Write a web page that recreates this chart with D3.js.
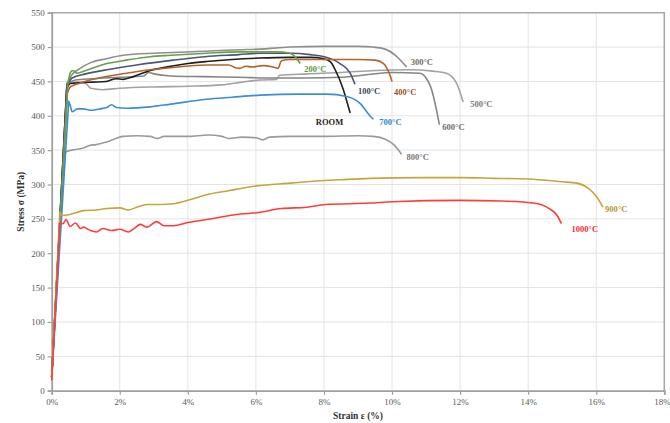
<!DOCTYPE html>
<html>
<head>
<meta charset="utf-8">
<script src="https://cdn.jsdelivr.net/npm/d3@7"></script>
<style>
  html, body { margin: 0; padding: 0; background: #fff; }
  svg { display: block; }
  text { font-family: "Liberation Serif", "Times New Roman", serif; }
</style>
</head>
<body>
<svg id="chart" width="670" height="423"></svg>
<script>
// Stress–strain curves at different test temperatures: [strain %, stress MPa]
const roomTemp = [[0,20],[0.44,440],[0.55,447],[0.8,448],[1.2,449],[1.6,450],[1.9,454],[2.1,453],[2.4,457],[2.9,466],[3.5,472],[4.0,476],[4.55,479],[5.3,482],[6.1,484],[7.0,485],[7.6,485],[8.0,483],[8.2,478],[8.33,467],[8.57,438],[8.69,418],[8.77,404]];
const t100 = [[0,20],[0.45,445],[0.6,455],[1.0,461],[1.62,467],[2.5,474],[3.57,481],[4.5,486],[5.5,489],[6.12,491],[7.0,491],[7.6,489],[8.0,486],[8.47,476],[8.77,462],[8.91,446]];
const t200 = [[0,20],[0.47,445],[0.55,463],[0.62,466],[0.75,462],[1.0,466],[1.62,476],[2.2,481],[2.89,486],[3.5,488],[4.55,491],[5.5,493],[6.12,493],[6.6,493],[7.0,491],[7.15,486],[7.3,476]];
const t300 = [[0,20],[0.48,450],[0.6,460],[0.8,468],[1.13,477],[1.6,483],[2.1,488],[3.0,491],[3.57,492],[4.5,494],[5.5,496],[6.12,497],[7.0,500],[8.0,501],[9.0,501],[9.45,500],[9.8,497],[10.1,488],[10.3,478],[10.43,471]];
const t400 = [[0,20],[0.45,432],[0.55,442],[0.8,447],[1.13,452],[1.6,457],[2.2,462],[2.89,467],[3.5,470],[4.55,474],[5.2,474],[5.4,470],[5.53,469],[5.7,472],[5.9,471],[6.2,473],[6.5,471],[6.65,469],[6.75,480],[7.0,482],[8.0,482],[9.0,482],[9.5,481],[9.75,476],[9.9,464],[10.0,450]];
const t500 = [[0,20],[0.45,448],[0.7,449],[1.0,447],[1.15,440],[1.5,438],[2.0,440],[3.0,442],[4.0,443],[5.0,445],[5.6,449],[6.12,452],[6.6,453],[6.7,459],[7.5,461],[8.5,463],[9.5,466],[10.5,467],[11.2,465],[11.6,462],[11.9,447],[12.09,420]];
const t600 = [[0,20],[0.45,447],[0.7,452],[1.2,454],[2.0,456],[2.7,458],[2.85,463],[3.0,461],[3.5,458],[4.5,457],[5.5,456],[6.5,455],[7.5,455],[8.5,456],[9.3,460],[10.0,463],[10.82,462],[11.0,455],[11.15,440],[11.3,410],[11.39,387]];
const t700 = [[0,20],[0.5,421],[0.55,414],[0.6,406],[0.75,410],[0.93,410],[1.13,408],[1.4,410],[1.62,412],[1.76,416],[1.9,412],[2.2,411],[2.89,413],[3.5,417],[4.55,424],[5.3,427],[6.12,430],[7.3,431.5],[8.08,431.5],[8.67,428],[9.06,418],[9.35,400],[9.45,395]];
const t800 = [[0,20],[0.38,345],[0.44,348],[0.7,351],[0.93,353],[1.13,357],[1.3,358],[1.62,362],[2.1,370],[2.5,371],[2.9,370],[3.1,367],[3.3,370],[4.0,370],[4.6,372],[5.0,370],[5.2,367],[5.6,369],[6.0,368],[6.2,365],[6.4,369],[7.0,370],[8.0,370],[9.0,371],[9.45,370],[9.8,366],[10.05,358],[10.28,344]];
const t900 = [[0,20],[0.24,260],[0.3,255],[0.5,256],[0.93,262],[1.3,263],[1.62,265],[2.0,266],[2.25,263],[2.5,267],[2.8,271],[3.2,271],[3.57,272],[4.0,277],[4.55,285],[5.2,291],[6.02,298],[7.0,302],[7.49,304],[8.5,307],[9.35,309],[10.86,310],[12.04,310],[13.0,309],[14.0,308],[15.0,304],[15.43,302],[15.78,294],[16.0,283],[16.2,267]];
const t1000 = [[0,15],[0.24,244],[0.33,243],[0.42,249],[0.54,239],[0.7,244],[0.85,236],[0.93,238],[1.1,234],[1.32,231],[1.5,236],[1.76,233],[2.0,235],[2.25,231],[2.45,237],[2.6,242],[2.8,238],[3.08,246],[3.3,240],[3.57,240],[4.04,245],[4.55,249],[5.56,257],[6.02,259],[6.74,265],[7.49,267],[8.04,271],[9.35,273],[10.01,275],[12.01,277],[13.2,276],[14.15,273],[14.62,265],[14.85,255],[14.98,243]];

const seriesNames = ["300°C","500°C","600°C","800°C","ROOM","100°C","400°C","200°C","700°C","900°C","1000°C"];
const seriesData  = [t300, t500, t600, t800, roomTemp, t100, t400, t200, t700, t900, t1000];

const strainTicks = [0,2,4,6,8,10,12,14,16,18];
const stressTicks = [0,50,100,150,200,250,300,350,400,450,500,550];

// Styling for each curve and the pixel offset of its end label
const styles = {
  "300°C":  {color:"#8e8e8e", text:"#6e6e6e", dx:4,  dy:-5, anchor:"start"},
  "500°C":  {color:"#a2a2a2", text:"#7a7a7a", dx:7,  dy:2,  anchor:"start"},
  "600°C":  {color:"#858585", text:"#6e6e6e", dx:3,  dy:2,  anchor:"start"},
  "800°C":  {color:"#9a9a9a", text:"#7a7a7a", dx:5,  dy:3,  anchor:"start"},
  "ROOM":   {color:"#1e1e1e", text:"#1e1e1e", dx:-7, dy:9,  anchor:"end"},
  "100°C":  {color:"#4b5670", text:"#3b4660", dx:3,  dy:7,  anchor:"start"},
  "400°C":  {color:"#b5622a", text:"#a4521a", dx:2,  dy:11, anchor:"start"},
  "200°C":  {color:"#6a9e4a", text:"#5a9a3a", dx:4,  dy:5,  anchor:"start"},
  "700°C":  {color:"#3a8ed6", text:"#2f86d4", dx:6,  dy:3,  anchor:"start"},
  "900°C":  {color:"#c8a43c", text:"#b8962c", dx:2,  dy:2,  anchor:"start"},
  "1000°C": {color:"#ff3c3c", text:"#f03030", dx:10, dy:5,  anchor:"start"}
};

const svg = d3.select("#chart");
const plotLeft = 51.7, plotRight = 664.3, plotTop = 12.7, plotBottom = 390.7;

const x = d3.scaleLinear().domain([0, 18]).range([plotLeft, plotRight]);
const y = d3.scaleLinear().domain([0, 550]).range([plotBottom, plotTop]);

// Gridlines
svg.append("g").selectAll("line").data(stressTicks.slice(1, -1)).join("line")
  .attr("x1", plotLeft).attr("x2", plotRight)
  .attr("y1", d => y(d)).attr("y2", d => y(d))
  .attr("stroke", "#e3e3e3").attr("stroke-width", 1);
svg.append("g").selectAll("line").data(strainTicks.slice(1, -1)).join("line")
  .attr("y1", plotTop).attr("y2", plotBottom)
  .attr("x1", d => x(d)).attr("x2", d => x(d))
  .attr("stroke", "#e3e3e3").attr("stroke-width", 1);

// Plot frame (top / right)
svg.append("path")
  .attr("d", `M${plotLeft},${plotTop}H${plotRight}V${plotBottom}`)
  .attr("fill", "none").attr("stroke", "#a9a9a9").attr("stroke-width", 1.6);

// Axes
const yAxis = svg.append("g").attr("transform", `translate(${plotLeft},0)`)
  .call(d3.axisLeft(y).tickValues(stressTicks).tickSize(4).tickPadding(3));
const xAxis = svg.append("g").attr("transform", `translate(0,${plotBottom})`)
  .call(d3.axisBottom(x).tickValues(strainTicks).tickFormat(d => d + "%").tickSize(4).tickPadding(4));

[yAxis, xAxis].forEach(g => {
  g.select(".domain").attr("stroke", "#a0a0a0").attr("stroke-width", 1.8);
  g.selectAll(".tick line").attr("stroke", "#a0a0a0").attr("stroke-width", 1.2);
  g.selectAll(".tick text").attr("fill", "#5a5a5a")
    .style("font-family", '"Liberation Serif", serif').style("font-size", "9px");
});
// keep the last strain label inside the canvas
xAxis.selectAll(".tick text").filter(d => d === 18).attr("text-anchor", "end").attr("dx", 6);

// Curves: straight elastic segment, then a smooth plastic segment
const elastic = d3.line().x(d => x(d[0])).y(d => y(d[1]));
const plastic = d3.line().x(d => x(d[0])).y(d => y(d[1])).curve(d3.curveMonotoneX);
const curvePath = d => elastic(d.slice(0, 2)) + plastic(d.slice(1)).replace(/^M/, "L");

svg.append("g").selectAll("path").data(seriesData).join("path")
  .attr("d", curvePath)
  .attr("fill", "none")
  .attr("stroke", (d, i) => styles[seriesNames[i]].color)
  .attr("stroke-width", 1.6)
  .attr("stroke-linejoin", "round");

// End labels
svg.append("g").selectAll("text").data(seriesData).join("text")
  .attr("x", (d, i) => x(d[d.length - 1][0]) + styles[seriesNames[i]].dx)
  .attr("y", (d, i) => y(d[d.length - 1][1]) + styles[seriesNames[i]].dy + 3)
  .attr("text-anchor", (d, i) => styles[seriesNames[i]].anchor)
  .attr("fill", (d, i) => styles[seriesNames[i]].text)
  .style("font-size", "8.5px").style("font-weight", "bold")
  .text((d, i) => seriesNames[i]);

// Axis titles
svg.append("text")
  .attr("transform", `translate(24,${(plotTop + plotBottom) / 2}) rotate(-90)`)
  .attr("text-anchor", "middle").attr("fill", "#333")
  .style("font-size", "9.5px").style("font-weight", "bold")
  .text("Stress σ (MPa)");
svg.append("text")
  .attr("x", (plotLeft + plotRight) / 2).attr("y", 419)
  .attr("text-anchor", "middle").attr("fill", "#333")
  .style("font-size", "9.5px").style("font-weight", "bold")
  .text("Strain ε (%)");
</script>
</body>
</html>
